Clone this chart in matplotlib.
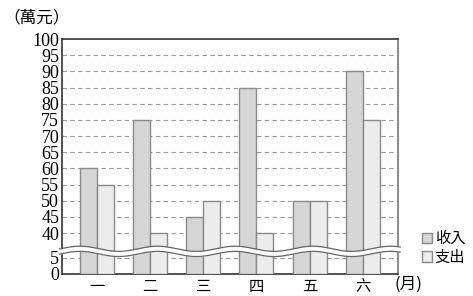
import matplotlib
matplotlib.use("Agg")
import matplotlib.pyplot as plt
import numpy as np
from matplotlib.patches import Patch

# data
months = ["一", "二", "三", "四", "五", "六"]
income = [60, 75, 45, 85, 50, 90]
expense = [55, 40, 50, 40, 50, 75]
yticks = [0, 5] + list(range(40, 101, 5))

GAP = 7.67  # scaled height given to the 5..40 break


def fwd(v):
    v = np.asarray(v, dtype=float)
    return np.where(v <= 5, v,
                    np.where(v < 40, 5 + (v - 5) * GAP / 35, v - 35 + GAP))


def inv(t):
    t = np.asarray(t, dtype=float)
    return np.where(t <= 5, t,
                    np.where(t < 5 + GAP, 5 + (t - 5) * 35 / GAP, t + 35 - GAP))


cjk = ["Noto Sans CJK TC", "DejaVu Sans"]
num_font = "Liberation Serif"

fig = plt.figure(figsize=(4.73, 2.96), dpi=100)
ax = fig.add_axes([62 / 473, 1 - 274 / 296, (398 - 62) / 473, (274 - 39) / 296])
ax.set_yscale("function", functions=(fwd, inv))

x = np.arange(len(months))
w = 0.32
ax.bar(x - w / 2, income, w, color="#d6d6d6", edgecolor="#8a8a8a", linewidth=1, zorder=3)
ax.bar(x + w / 2, expense, w, color="#ececec", edgecolor="#8a8a8a", linewidth=1, zorder=3)

ax.set_xlim(-0.655, 5.66)
ax.set_ylim(0, 100)

# dashed grid
for v in yticks[1:-1]:
    ax.axhline(v, color="#9a9a9a", linestyle=(0, (4, 3)), linewidth=0.8, zorder=1)

ax.set_yticks(yticks)
ax.set_yticklabels([str(v) for v in yticks], fontfamily=num_font, fontsize=13)
ax.tick_params(axis="y", length=0, pad=2)
ax.set_xticks(x)
ax.set_xticklabels(months, fontfamily=cjk, fontsize=11)
ax.tick_params(axis="x", length=0, pad=3)

for side in ["left", "bottom", "top"]:
    ax.spines[side].set_color("#333333")
    ax.spines[side].set_linewidth(1.2)
ax.spines["right"].set_color("#777777")
ax.spines["right"].set_linewidth(1.2)

# wavy break
xs = np.linspace(-0.7, 5.7, 500)
center = 7.0
amp = 0.8
half = 0.8
period = 1.46
wave = amp * np.cos((xs + 0.32) * 2 * np.pi / period)
lo = inv(center - half + wave)
hi = inv(center + half + wave)
ax.fill_between(xs, lo, hi, color="white", zorder=5, clip_on=False, linewidth=0)
ax.plot(xs, lo, color="#666666", linewidth=0.9, zorder=6, clip_on=False)
ax.plot(xs, hi, color="#666666", linewidth=0.9, zorder=6, clip_on=False)

fig.text(3 / 473, 1 - 18 / 296, "（萬元）", fontfamily=cjk, fontsize=12, va="center", ha="left")
fig.text(394 / 473, 1 - 284 / 296, "(月)", fontfamily=cjk, fontsize=12, va="center", ha="left")

handles = [Patch(facecolor="#d6d6d6", edgecolor="#8a8a8a", label="收入"),
           Patch(facecolor="#ececec", edgecolor="#8a8a8a", label="支出")]
fig.legend(handles=handles, loc="center left", bbox_to_anchor=(414 / 473, 1 - 248 / 296),
           frameon=False, prop={"family": cjk, "size": 11}, handlelength=0.7,
           handleheight=0.7, handletextpad=0.15, labelspacing=0.1, borderpad=0)

fig.savefig("out.png", dpi=100)
